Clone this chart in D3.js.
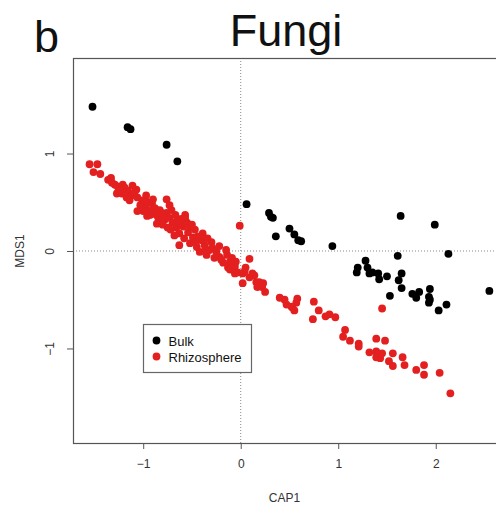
<!DOCTYPE html>
<html>
<head>
<meta charset="utf-8">
<script src="https://cdn.jsdelivr.net/npm/d3@7"></script>
<style>
  html, body { margin: 0; padding: 0; background: #fff; }
  svg { display: block; font-family: "Liberation Sans", Arial, sans-serif; }
</style>
</head>
<body>
<div id="chart"></div>
<script>
// Ordination scores (CAP1, MDS1)
const bulkPoints = [
    [-1.52, 1.48], [-1.16, 1.27], [-1.13, 1.25], [-0.76, 1.09], [-0.65, 0.92],
    [0.06, 0.48], [0.29, 0.39], [0.31, 0.35], [0.33, 0.34], [0.36, 0.15],
    [0.50, 0.23], [0.55, 0.17], [0.59, 0.11], [0.62, 0.10], [0.94, 0.05],
    [1.64, 0.36], [1.99, 0.27], [2.13, -0.03], [1.61, -0.05], [1.28, -0.10],
    [1.20, -0.17], [1.19, -0.22], [1.30, -0.17], [1.32, -0.23], [1.35, -0.22],
    [1.41, -0.23], [1.42, -0.29], [1.50, -0.26], [1.65, -0.23], [1.62, -0.30],
    [1.65, -0.38], [1.53, -0.46], [1.76, -0.44], [1.80, -0.48], [1.83, -0.42],
    [1.94, -0.39], [1.93, -0.47], [1.94, -0.50], [1.93, -0.53], [2.03, -0.61],
    [2.11, -0.55], [2.55, -0.41]
];

const rhizoPoints = [
    [-1.55, 0.89], [-1.47, 0.89], [-1.51, 0.81], [-1.44, 0.79], [-1.36, 0.73],
    [-1.32, 0.70], [-1.29, 0.68], [-1.26, 0.66], [-1.21, 0.68], [-1.19, 0.65],
    [-1.27, 0.59], [-1.22, 0.59], [-1.16, 0.62], [-1.12, 0.57], [-1.07, 0.63],
    [-1.06, 0.55], [-1.01, 0.52], [-1.03, 0.47], [-0.98, 0.45], [-0.91, 0.49],
    [-0.88, 0.44], [-0.83, 0.42], [-1.06, 0.41], [-0.93, 0.37], [-0.85, 0.35],
    [-1.11, 0.67], [-1.17, 0.55], [-0.97, 0.57], [-1.00, 0.41], [-1.14, 0.52],
    [-0.96, 0.50], [-0.81, 0.39], [-0.76, 0.39], [-0.83, 0.30], [-0.78, 0.32],
    [-0.73, 0.34], [-0.70, 0.29], [-0.66, 0.24], [-0.75, 0.24], [-0.80, 0.27],
    [-0.63, 0.18], [-0.59, 0.25], [-0.55, 0.29], [-0.54, 0.19], [-0.49, 0.14],
    [-0.63, 0.06], [-0.52, 0.08], [-0.45, 0.04], [-0.40, 0.11], [-0.37, 0.06],
    [-0.32, 0.01], [-0.35, -0.04], [-0.25, -0.01], [-0.22, -0.06], [-0.14, -0.04],
    [-0.18, -0.12], [-0.11, -0.11], [-0.06, -0.16], [-0.03, -0.22], [0.02, -0.23],
    [0.02, -0.33], [0.09, -0.27], [0.14, -0.25], [0.16, -0.32], [0.22, -0.37],
    [0.25, -0.42], [0.09, -0.08], [-0.01, 0.26], [-0.76, 0.53], [-0.71, 0.42],
    [-0.67, 0.37], [-0.65, 0.31], [-0.57, 0.37], [-0.52, 0.24], [-0.47, 0.22],
    [-0.44, 0.15], [-0.58, 0.13], [-0.42, -0.01], [-0.30, 0.09], [-0.27, -0.07],
    [-0.13, -0.17], [-0.09, -0.07], [-0.05, -0.11], [0.05, -0.17], [0.12, -0.23],
    [0.19, -0.32], [0.17, -0.37], [0.23, -0.33], [0.04, -0.21], [-0.06, -0.23],
    [-0.68, 0.16], [-0.57, 0.34], [-0.50, 0.27], [-0.86, 0.28], [-0.72, 0.22],
    [-0.39, 0.18], [-0.34, 0.13], [-0.29, 0.03], [-0.22, 0.05], [-0.15, 0.01],
    [-0.11, -0.19], [-0.73, 0.47], [-0.80, 0.34], [-0.88, 0.38], [-0.96, 0.36],
    [-1.24, 0.63], [-1.09, 0.60], [-0.94, 0.42], [-0.62, 0.28], [-0.46, 0.09],
    [-0.36, 0.01], [-0.20, -0.09], [-0.61, 0.33], [-0.90, 0.53], [-1.33, 0.75],
    [0.40, -0.48], [0.45, -0.50], [0.47, -0.55], [0.52, -0.57], [0.55, -0.61],
    [0.58, -0.49], [0.57, -0.53], [0.53, -0.58], [0.75, -0.52], [0.80, -0.61],
    [0.74, -0.70], [0.87, -0.67], [0.91, -0.65], [0.97, -0.68], [1.45, -0.59],
    [1.07, -0.81], [1.05, -0.88], [1.12, -0.92], [1.21, -0.95], [1.21, -0.98],
    [1.39, -0.90], [1.48, -0.92], [1.32, -1.04], [1.39, -1.03], [1.39, -1.09],
    [1.43, -1.10], [1.45, -1.05], [1.56, -1.05], [1.52, -1.13], [1.56, -1.18],
    [1.66, -1.09], [1.68, -1.17], [1.80, -1.22], [1.88, -1.17], [1.88, -1.27],
    [2.04, -1.25], [2.15, -1.46]
];

const xTicks = [-1, 0, 1, 2];
const yTicks = [-1, 0, 1];
const groups = ["Bulk", "Rhizosphere"];
const groupColors = ["#000000", "#e3201f"];

(() => {
    const totalWidth = 496;
    const totalHeight = 513;
    // plot box (right edge runs off the page like in the original)
    const plot = { left: 73, top: 58, right: 504, bottom: 443 };
    const pointRadius = 3.9;

    const svg = d3.select("#chart")
        .append("svg")
        .attr("width", totalWidth)
        .attr("height", totalHeight);

    const x = d3.scaleLinear()
        .domain([-1.72, 2.7])
        .range([plot.left, plot.right]);

    const y = d3.scaleLinear()
        .domain([-1.97, 1.98])
        .range([plot.bottom, plot.top]);

    // Reference lines at zero
    svg.append("line")
        .attr("x1", x(0)).attr("x2", x(0))
        .attr("y1", plot.top).attr("y2", plot.bottom)
        .attr("stroke", "#888")
        .attr("stroke-width", 1)
        .attr("stroke-dasharray", "1,2");

    svg.append("line")
        .attr("x1", plot.left).attr("x2", plot.right)
        .attr("y1", y(0)).attr("y2", y(0))
        .attr("stroke", "#888")
        .attr("stroke-width", 1)
        .attr("stroke-dasharray", "1,2");

    // Points
    svg.append("g")
        .selectAll("circle")
        .data(rhizoPoints)
        .enter()
        .append("circle")
        .attr("cx", d => x(d[0]))
        .attr("cy", d => y(d[1]))
        .attr("r", pointRadius)
        .attr("fill", groupColors[1]);

    svg.append("g")
        .selectAll("circle")
        .data(bulkPoints)
        .enter()
        .append("circle")
        .attr("cx", d => x(d[0]))
        .attr("cy", d => y(d[1]))
        .attr("r", pointRadius)
        .attr("fill", groupColors[0]);

    // Box
    svg.append("rect")
        .attr("x", plot.left + 0.5)
        .attr("y", plot.top + 0.5)
        .attr("width", plot.right - plot.left)
        .attr("height", plot.bottom - plot.top)
        .attr("fill", "none")
        .attr("stroke", "#555")
        .attr("stroke-width", 1.2);

    // Axes
    const xAxis = svg.append("g")
        .attr("transform", `translate(0,${plot.bottom})`)
        .call(d3.axisBottom(x).tickValues(xTicks).tickSize(6).tickPadding(10).tickFormat(d3.format("d")));
    xAxis.select(".domain").remove();
    xAxis.selectAll("line").attr("stroke", "#555");
    xAxis.selectAll("text")
        .attr("fill", "#333")
        .style("font-size", "12px");

    const yAxis = svg.append("g")
        .attr("transform", `translate(${plot.left},0)`)
        .call(d3.axisLeft(y).tickValues(yTicks).tickSize(6).tickFormat(d3.format("d")));
    yAxis.select(".domain").remove();
    yAxis.selectAll("line").attr("stroke", "#555");
    // R style: labels parallel to the axis
    yAxis.selectAll(".tick text")
        .attr("fill", "#333")
        .style("font-size", "12px")
        .attr("text-anchor", "middle")
        .attr("x", 0)
        .attr("y", 0)
        .attr("dy", null)
        .attr("transform", `translate(${50 - plot.left + 4},0) rotate(-90)`);

    // Axis titles
    svg.append("text")
        .attr("x", (plot.left + 496) / 2)
        .attr("y", 502)
        .attr("text-anchor", "middle")
        .attr("fill", "#333")
        .style("font-size", "12px")
        .text("CAP1");

    svg.append("text")
        .attr("transform", `translate(24,${y(0)}) rotate(-90)`)
        .attr("text-anchor", "middle")
        .attr("fill", "#333")
        .style("font-size", "12px")
        .text("MDS1");

    // Title and panel letter
    svg.append("text")
        .attr("x", 286)
        .attr("y", 46)
        .attr("text-anchor", "middle")
        .attr("fill", "#111")
        .style("font-size", "45px")
        .text("Fungi");

    svg.append("text")
        .attr("x", 34)
        .attr("y", 52)
        .attr("fill", "#111")
        .style("font-size", "45px")
        .text("b");

    // Legend
    const legend = svg.append("g")
        .attr("transform", "translate(143.5,324.5)");

    legend.append("rect")
        .attr("width", 108)
        .attr("height", 48)
        .attr("fill", "#fff")
        .attr("stroke", "#666")
        .attr("stroke-width", 1.2);

    groups.forEach((g, i) => {
        legend.append("circle")
            .attr("cx", 13)
            .attr("cy", 16 + i * 16)
            .attr("r", pointRadius)
            .attr("fill", groupColors[i]);
        legend.append("text")
            .attr("x", 25)
            .attr("y", 21 + i * 16)
            .attr("fill", "#111")
            .style("font-size", "13px")
            .text(g);
    });
})();
</script>
</body>
</html>
